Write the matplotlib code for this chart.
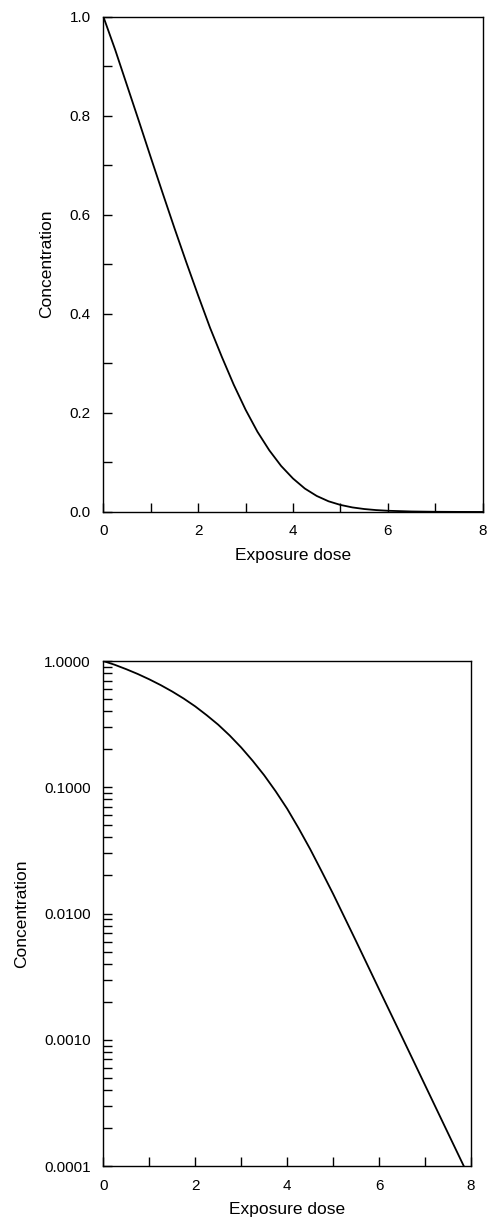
import numpy as np
import matplotlib
matplotlib.use("Agg")
import matplotlib.pyplot as plt
from matplotlib.ticker import MultipleLocator, LogLocator, FuncFormatter, NullFormatter

plt.rcParams['font.family'] = ['Liberation Sans', 'DejaVu Sans']

# Concentration vs exposure dose
dose = [0, 0.25, 0.5, 0.75, 1, 1.25, 1.5, 1.75, 2, 2.25, 2.5, 2.75, 3, 3.25,
        3.5, 3.75, 4, 4.25, 4.5, 4.75, 5, 5.25, 5.5, 5.75, 6, 6.5, 7, 7.5, 8]
conc = [1.0, 0.933, 0.861, 0.789, 0.716, 0.644, 0.573, 0.504, 0.437, 0.372,
        0.313, 0.257, 0.2065, 0.162, 0.1245, 0.0929, 0.0676, 0.0473, 0.0324,
        0.0216, 0.0143, 0.00929, 0.00603, 0.00389, 0.00251, 0.00105,
        0.000437, 0.000182, 0.0000759]

lin_ticks = [0.0, 0.2, 0.4, 0.6, 0.8, 1.0]
log_ticks = [1e-4, 1e-3, 1e-2, 1e-1, 1.0]
x_ticks = [0, 2, 4, 6, 8]

W, H = 487, 1218
fig = plt.figure(figsize=(W / 100, H / 100), dpi=100)

def style(ax):
    for s in ax.spines.values():
        s.set_linewidth(1.0)
        s.set_color('black')
    ax.tick_params(which='both', direction='in', length=6.5, width=1.0,
                   top=False, right=False, labelsize=11, colors='black')
    ax.tick_params(axis='x', which='both', pad=9)
    ax.tick_params(axis='y', which='both', pad=9)
    ax.set_xlim(0, 8)
    ax.set_xticks(x_ticks)
    ax.xaxis.set_minor_locator(MultipleLocator(1))
    ax.set_xlabel('Exposure dose', fontsize=12.5, labelpad=7)
    ax.set_ylabel('Concentration', fontsize=12.5, labelpad=11)

# top: linear scale
ax1 = fig.add_axes([103.3 / W, 1 - 512 / H, 379.4 / W, 495.5 / H])
ax1.plot(dose, conc, color='black', lw=1.3)
ax1.set_ylim(0, 1)
ax1.set_yticks(lin_ticks)
ax1.yaxis.set_minor_locator(MultipleLocator(0.1))
ax1.yaxis.set_major_formatter(FuncFormatter(lambda v, p: f'{v:.1f}'))
style(ax1)

# bottom: log scale
ax2 = fig.add_axes([103.3 / W, 1 - 1166 / H, 367.7 / W, 505 / H])
ax2.plot(dose, conc, color='black', lw=1.3)
ax2.set_yscale('log')
ax2.set_ylim(1e-4, 1)
ax2.set_yticks(log_ticks)
ax2.yaxis.set_minor_locator(LogLocator(base=10, subs=np.arange(2, 10)))
ax2.yaxis.set_minor_formatter(NullFormatter())
ax2.yaxis.set_major_formatter(FuncFormatter(lambda v, p: f'{v:.4f}'))
style(ax2)

fig.savefig('out.png', dpi=100, facecolor='white')
